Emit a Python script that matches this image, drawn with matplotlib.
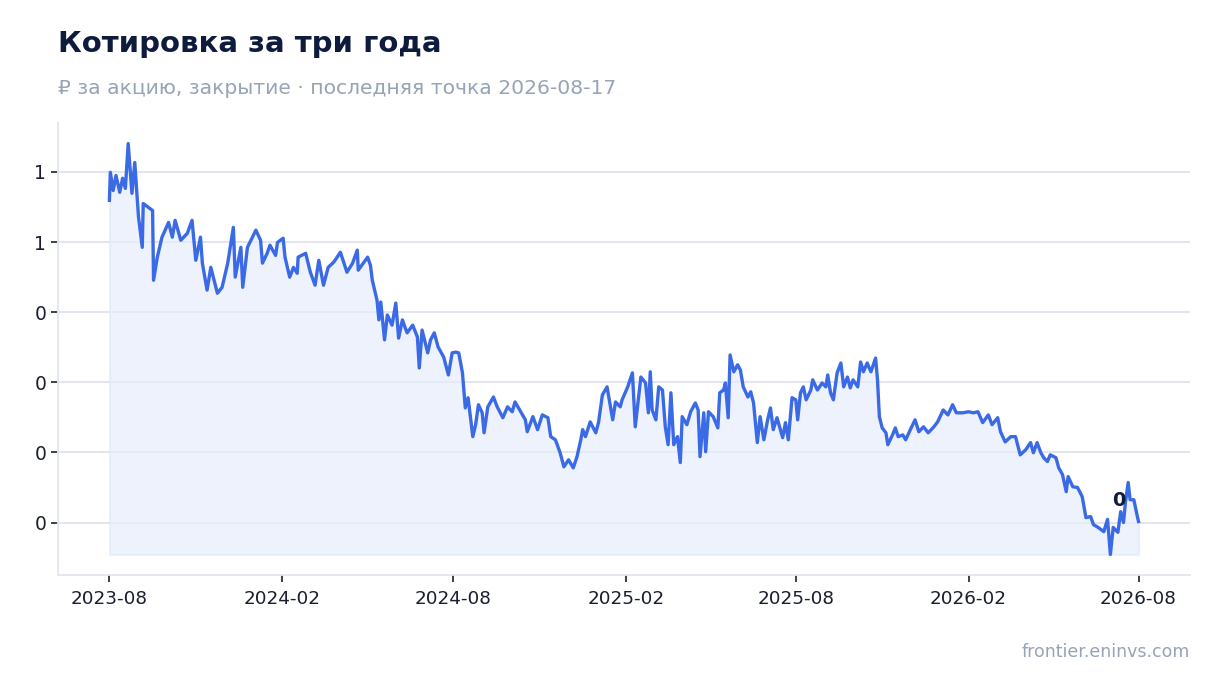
import math
import numpy as np
import pandas as pd
import matplotlib
matplotlib.use("Agg")
import matplotlib.pyplot as plt
import matplotlib.dates as mdates
from matplotlib.ticker import FuncFormatter, MultipleLocator

start = pd.Timestamp("2023-08-17")

# days after start and close price
day = [0, 1, 4, 7, 11, 14, 17, 20, 24, 27, 30, 31, 35, 36, 46, 47, 51, 56, 63, 67,
       70, 76, 83, 88, 92, 97, 99, 104, 108, 115, 120, 126, 132, 134, 140, 142, 147, 156, 161, 163,
       168, 171, 177, 179, 185, 187, 192, 196, 200, 201, 209, 214, 219, 223, 228, 233, 239, 246, 253, 259,
       264, 265, 275, 278, 280, 285, 287, 289, 293, 296, 301, 305, 308, 312, 317, 323, 328, 330, 333, 339,
       342, 346, 350, 356, 361, 365, 369, 372, 376, 379, 382, 387, 390, 393, 397, 399, 403, 409, 413, 419,
       424, 429, 432, 438, 443, 445, 451, 456, 461, 467, 470, 475, 480, 484, 489, 494, 498, 502, 504, 507,
       512, 518, 521, 525, 530, 536, 539, 544, 546, 552, 557, 560, 566, 571, 574, 576, 578, 582, 585, 589,
       592, 595, 598, 601, 605, 608, 610, 615, 619, 624, 627, 629, 633, 635, 638, 643, 648, 650, 654, 656,
       659, 661, 665, 669, 672, 675, 680, 683, 686, 690, 693, 697, 701, 704, 707, 711, 717, 720, 723, 727,
       731, 733, 736, 739, 742, 747, 749, 754, 759, 763, 765, 768, 771, 775, 779, 782, 786, 789, 792, 797,
       800, 803, 807, 811, 816, 818, 820, 823, 827, 829, 834, 837, 840, 845, 848, 853, 858, 862, 867, 872,
       878, 882, 888, 893, 898, 902, 909, 915, 920, 925, 930, 936, 940, 946, 949, 954, 960, 965, 970, 976,
       981, 984, 988, 992, 995, 999, 1002, 1008, 1011, 1015, 1019, 1021, 1026, 1031, 1036, 1040, 1045, 1048, 1053, 1059,
       1063, 1066, 1069, 1074, 1077, 1080, 1082, 1085, 1087, 1091, 1095, 1096]

close = [1.119, 1.199, 1.147, 1.190, 1.142, 1.182, 1.153, 1.281, 1.139, 1.227, 1.113, 1.071, 0.985, 1.110, 1.090, 0.891, 0.957, 1.014, 1.056, 1.014,
         1.062, 1.005, 1.025, 1.062, 0.948, 1.014, 0.940, 0.863, 0.928, 0.854, 0.871, 0.940, 1.042, 0.900, 0.985, 0.871, 0.985, 1.034, 1.005, 0.940,
         0.968, 0.991, 0.962, 0.999, 1.011, 0.957, 0.900, 0.928, 0.911, 0.957, 0.968, 0.914, 0.877, 0.948, 0.877, 0.928, 0.943, 0.971, 0.914, 0.940,
         0.977, 0.920, 0.957, 0.934, 0.891, 0.834, 0.778, 0.829, 0.721, 0.792, 0.763, 0.826, 0.726, 0.778, 0.741, 0.763, 0.729, 0.641, 0.749, 0.684,
         0.721, 0.741, 0.701, 0.672, 0.621, 0.684, 0.686, 0.684, 0.627, 0.527, 0.556, 0.445, 0.479, 0.536, 0.513, 0.456, 0.530, 0.558, 0.530, 0.499,
         0.530, 0.516, 0.544, 0.516, 0.493, 0.459, 0.502, 0.465, 0.507, 0.499, 0.445, 0.436, 0.399, 0.359, 0.379, 0.356, 0.388, 0.436, 0.465, 0.445,
         0.487, 0.456, 0.487, 0.564, 0.587, 0.493, 0.544, 0.530, 0.550, 0.587, 0.627, 0.473, 0.615, 0.598, 0.513, 0.630, 0.521, 0.493, 0.587, 0.578,
         0.473, 0.422, 0.570, 0.422, 0.445, 0.371, 0.502, 0.479, 0.516, 0.541, 0.521, 0.388, 0.513, 0.402, 0.516, 0.502, 0.470, 0.570, 0.578, 0.598,
         0.499, 0.678, 0.630, 0.650, 0.635, 0.587, 0.558, 0.573, 0.541, 0.428, 0.502, 0.436, 0.493, 0.527, 0.465, 0.499, 0.442, 0.485, 0.436, 0.556,
         0.550, 0.493, 0.570, 0.587, 0.550, 0.578, 0.607, 0.578, 0.598, 0.587, 0.621, 0.570, 0.550, 0.627, 0.655, 0.587, 0.615, 0.584, 0.607, 0.587,
         0.658, 0.630, 0.655, 0.630, 0.669, 0.607, 0.502, 0.470, 0.456, 0.422, 0.450, 0.470, 0.445, 0.450, 0.436, 0.465, 0.493, 0.459, 0.473, 0.456,
         0.473, 0.487, 0.521, 0.507, 0.536, 0.513, 0.513, 0.516, 0.513, 0.516, 0.485, 0.507, 0.479, 0.499, 0.459, 0.430, 0.445, 0.445, 0.393, 0.408,
         0.428, 0.399, 0.428, 0.399, 0.385, 0.374, 0.393, 0.385, 0.356, 0.337, 0.288, 0.331, 0.302, 0.300, 0.274, 0.214, 0.217, 0.194, 0.186, 0.174,
         0.209, 0.109, 0.186, 0.172, 0.231, 0.200, 0.257, 0.314, 0.265, 0.265, 0.214, 0.203]

dates = start + pd.to_timedelta(day, unit="D")
tick_dates = [start + pd.DateOffset(months=6 * k) for k in range(7)]

navy = "#0f1b3d"
blue = "#3a6ae6"
grey = "#97a3b6"

fig = plt.figure(figsize=(12.2, 6.93), dpi=100)
ax = fig.add_axes([0.0475, 0.1703, 0.9279, 0.6522])

ax.fill_between(dates, close, min(close), color="#e6edfc", alpha=0.7,
                edgecolor="#dbe4fa", linewidth=1)
ax.plot(dates, close, color=blue, linewidth=2.4, solid_joinstyle="round")
ax.margins(x=0.05, y=0.05)

ax.yaxis.set_major_locator(MultipleLocator(0.2))
ax.yaxis.set_major_formatter(FuncFormatter(lambda v, p: str(math.floor(v + 1e-9))))
ax.set_xticks(tick_dates)
ax.xaxis.set_major_formatter(mdates.DateFormatter("%Y-%m"))

ax.grid(axis="y", color="#dfe3ee", linewidth=1.3)
ax.set_axisbelow(True)
for s in ["top", "right"]:
    ax.spines[s].set_visible(False)
for s in ["left", "bottom"]:
    ax.spines[s].set_color("#e2e6ef")
    ax.spines[s].set_linewidth(1.3)
ax.tick_params(axis="both", colors="#1a1f2e", labelsize=13.5, length=5, width=1.2)
ax.tick_params(axis="x", labelsize=13.2, pad=6)

ax.annotate(str(math.floor(close[-1])), (dates[-1], close[-1]),
            xytext=(-14, 15), textcoords="offset points",
            ha="center", va="center", fontsize=14, fontweight="bold", color=navy)

fig.text(58 / 1220, 1 - 44 / 693, "Котировка за три года", fontsize=21,
         fontweight="bold", color=navy, ha="left", va="center")
fig.text(58 / 1220, 1 - 88 / 693, "₽ за акцию, закрытие · последняя точка 2026-08-17",
         fontsize=14.6, color=grey, ha="left", va="center")
fig.text(1190 / 1220, 1 - 652 / 693, "frontier.eninvs.com", fontsize=12.5,
         color=grey, ha="right", va="center")

fig.savefig("out.png", dpi=100)
